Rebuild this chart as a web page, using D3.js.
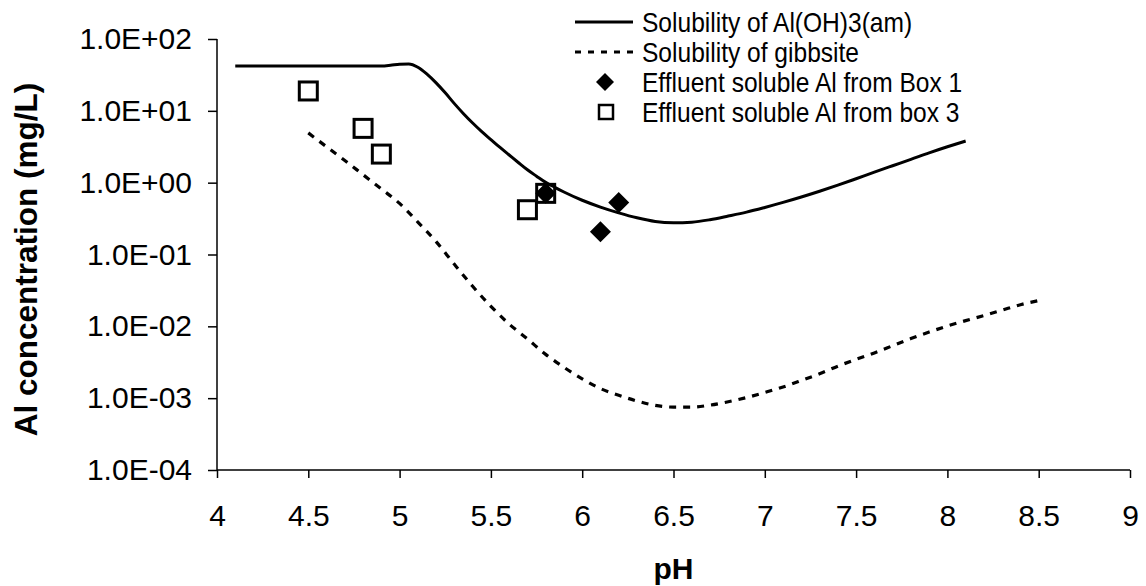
<!DOCTYPE html>
<html><head><meta charset="utf-8">
<script src="https://cdn.jsdelivr.net/npm/d3@7"></script>
<style>body{margin:0;background:#fff;} text{font-family:Arial,"Liberation Sans",sans-serif;fill:#000;}</style>
</head><body>
<svg id="chart" width="1146" height="586"></svg>
<script>
// ---- data ----
const amPH  = [4.1,4.2,4.3,4.4,4.5,4.6,4.7,4.8,4.9,4.95,5.0,5.05,5.1,5.15,5.2,5.25,5.3,5.35,5.4,5.45,5.5,5.55,5.6,5.65,5.7,5.75,5.8,5.85,5.9,6.0,6.1,6.2,6.3,6.4,6.5,6.6,6.7,6.8,6.9,7.0,7.1,7.2,7.3,7.4,7.5,7.6,7.7,7.8,7.9,8.0,8.1];
const amAl  = [42,42,42,42,42,42,42,42,42,43.0,44.6,45.0,40.5,32.4,24.5,17.8,12.6,9.12,6.76,5.13,3.98,3.09,2.43,1.91,1.51,1.23,1.01,0.861,0.741,0.569,0.457,0.380,0.324,0.288,0.277,0.282,0.305,0.343,0.389,0.452,0.531,0.631,0.759,0.923,1.135,1.40,1.72,2.11,2.60,3.16,3.80];
const gibPH = [4.5,4.6,4.7,4.8,4.9,5.0,5.1,5.2,5.3,5.4,5.5,5.6,5.7,5.8,5.9,6.0,6.1,6.2,6.3,6.4,6.5,6.6,6.7,6.8,6.9,7.0,7.1,7.2,7.3,7.4,7.5,7.6,7.7,7.8,7.9,8.0,8.1,8.2,8.3,8.4,8.5];
const gibAl = [4.93,3.16,2.04,1.29,0.817,0.514,0.283,0.151,0.0729,0.0361,0.0190,0.01076,0.00668,0.00407,0.00269,0.00186,0.00136,0.00110,0.000912,0.000794,0.000750,0.000750,0.000800,0.000891,0.00102,0.00120,0.00143,0.00176,0.00219,0.00279,0.00347,0.00427,0.00537,0.00676,0.00832,0.0101,0.0120,0.0141,0.0168,0.0200,0.0228];
const box1PH = [5.8, 6.1, 6.2];
const box1Al = [0.71, 0.207, 0.53];
const box3PH = [4.5, 4.8, 4.9, 5.7, 5.8];
const box3Al = [18.9, 5.7, 2.5, 0.42, 0.71];
const xTicks = [4,4.5,5,5.5,6,6.5,7,7.5,8,8.5,9];
const yTicks = [1e-4,1e-3,1e-2,1e-1,1e0,1e1,1e2];
const yTickLabels = ["1.0E-04","1.0E-03","1.0E-02","1.0E-01","1.0E+00","1.0E+01","1.0E+02"];
const legendLabels = ["Solubility of Al(OH)3(am)","Solubility of gibbsite","Effluent soluble Al from Box 1","Effluent soluble Al from box 3"];
const xTitle = "pH";
const yTitle = "Al concentration (mg/L)";

// ---- layout ----
const svg = d3.select("#chart");
const pLeft = 217, pRight = 1130, pTop = 39, pBottom = 470;
const x = d3.scaleLinear().domain([4, 9]).range([pLeft, pRight]);
const y = d3.scaleLog().domain([1e-4, 1e2]).range([pBottom, pTop]);

// axes
const xAxis = d3.axisBottom(x).tickValues(xTicks).tickSize(8).tickPadding(27).tickFormat(d3.format("~g"));
const gx = svg.append("g").attr("transform", `translate(0,${pBottom})`).call(xAxis);
const yAxis = d3.axisLeft(y).tickValues(yTicks).tickSize(9).tickPadding(16).tickFormat((d,i)=>yTickLabels[i]);
const gy = svg.append("g").attr("transform", `translate(${pLeft},0)`).call(yAxis);
[gx, gy].forEach(g => {
  g.select(".domain").attr("stroke", "#000").attr("stroke-width", 1.5);
  g.selectAll(".tick line").attr("stroke", "#000").attr("stroke-width", 1.5);
  g.selectAll(".tick text").attr("font-size", 30).attr("font-family", "Arial, 'Liberation Sans', sans-serif").attr("fill", "#000");
});
gy.select(".domain").attr("d", `M0,${y(1e2)}V${y(1e-4)}`);
gx.select(".domain").attr("d", `M${x(4)},0H${x(9)}`);

// titles
svg.append("text").attr("x", (pLeft + pRight) / 2).attr("y", 579).attr("text-anchor", "middle")
  .attr("font-size", 30).attr("font-weight", "bold").text(xTitle);
svg.append("text").attr("transform", `translate(37,259.5) rotate(-90)`)
  .attr("text-anchor", "middle").attr("font-size", 31.5).attr("font-weight", "bold").text(yTitle);

// lines
const line = d3.line().x(d => x(d[0])).y(d => y(d[1])).curve(d3.curveMonotoneX);
svg.append("path").datum(d3.zip(amPH, amAl)).attr("d", line)
  .attr("fill", "none").attr("stroke", "#000").attr("stroke-width", 3);
svg.append("path").datum(d3.zip(gibPH, gibAl)).attr("d", line)
  .attr("fill", "none").attr("stroke", "#000").attr("stroke-width", 3.2).attr("stroke-dasharray", "7,7");

// markers
const diamond = (cx, cy, r) => `M${cx},${cy - r}L${cx + r},${cy}L${cx},${cy + r}L${cx - r},${cy}Z`;
svg.append("g").selectAll("path").data(d3.zip(box1PH, box1Al)).join("path")
  .attr("d", d => diamond(x(d[0]), y(d[1]), 10.5)).attr("fill", "#000");
svg.append("g").selectAll("rect").data(d3.zip(box3PH, box3Al)).join("rect")
  .attr("x", d => x(d[0]) - 9).attr("y", d => y(d[1]) - 9).attr("width", 18).attr("height", 18)
  .attr("fill", "none").attr("stroke", "#000").attr("stroke-width", 3);

// legend
const lg = svg.append("g");
const rowY = [22, 52, 82, 112];
lg.append("line").attr("x1", 575).attr("x2", 633).attr("y1", rowY[0]).attr("y2", rowY[0]).attr("stroke", "#000").attr("stroke-width", 3);
lg.append("line").attr("x1", 575).attr("x2", 633).attr("y1", rowY[1]).attr("y2", rowY[1]).attr("stroke", "#000").attr("stroke-width", 3).attr("stroke-dasharray", "6,7");
lg.append("path").attr("d", diamond(605, rowY[2], 9)).attr("fill", "#000");
lg.append("rect").attr("x", 599).attr("y", rowY[3] - 7).attr("width", 14).attr("height", 14).attr("fill", "none").attr("stroke", "#000").attr("stroke-width", 2.5);
legendLabels.forEach((t, i) => {
  lg.append("text").attr("transform", `translate(642,${rowY[i]}) scale(0.877,1)`)
    .attr("dy", "0.35em").attr("font-size", 28).text(t);
});
</script>
</body></html>
